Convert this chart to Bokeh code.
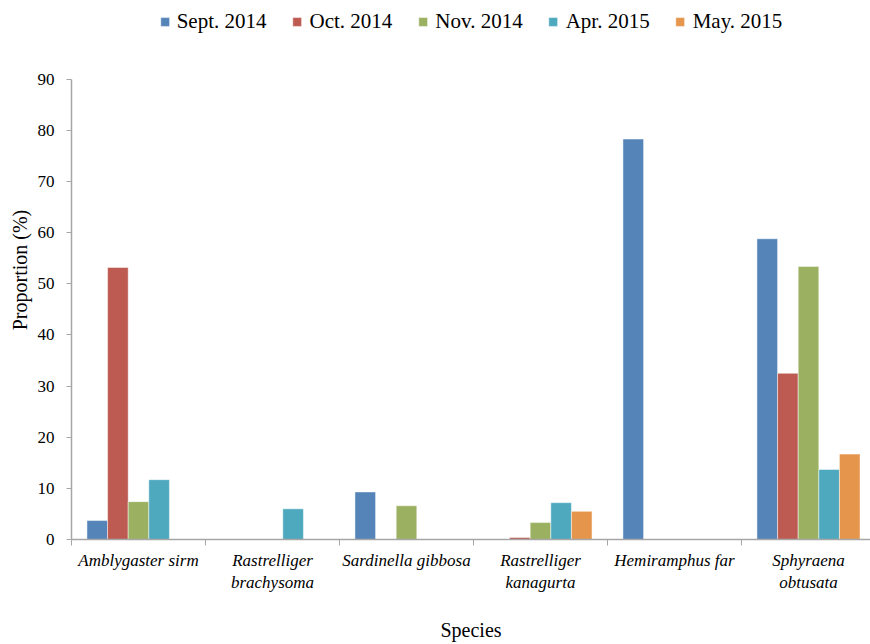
from bokeh.plotting import figure
from bokeh.models import ColumnDataSource, Range1d, FixedTicker, Legend, LegendItem
from bokeh.embed import file_html
from bokeh.resources import INLINE

species = ["Amblygaster sirm", "Rastrelliger\nbrachysoma", "Sardinella gibbosa",
           "Rastrelliger\nkanagurta", "Hemiramphus far", "Sphyraena\nobtusata"]
series = ["Sept. 2014", "Oct. 2014", "Nov. 2014", "Apr. 2015", "May. 2015"]
sept_2014 = [3.7, 0, 9.3, 0, 78.3, 58.8]
oct_2014 = [53.2, 0, 0, 0.4, 0, 32.5]
nov_2014 = [7.4, 0, 6.6, 3.3, 0, 53.4]
apr_2015 = [11.7, 6.0, 0, 7.2, 0, 13.7]
may_2015 = [0, 0, 0, 5.5, 0, 16.7]
colors = ["#5484B8", "#BD5B52", "#9BB061", "#4EA9BE", "#E6964C"]
y_ticks = [0, 10, 20, 30, 40, 50, 60, 70, 80, 90]
y_max = 90

values = [sept_2014, oct_2014, nov_2014, apr_2015, may_2015]
n = len(species)
bw = 1 / 6.5
FONT = "Liberation Serif"

# frame spans canvas top (0) to 541px; value axis 0..90 occupies bottom 462px
top_extra = y_max * 541 / 462

p = figure(width=870, height=644, output_backend="svg", toolbar_location=None,
           x_range=Range1d(0, 799 / 134), y_range=Range1d(0, top_extra),
           min_border_left=71, min_border_right=0, min_border_top=0, min_border_bottom=103)
p.outline_line_color = None
p.xgrid.grid_line_color = None
p.ygrid.grid_line_color = None

items = []
for k, (name, vals, col) in enumerate(zip(series, values, colors)):
    src = ColumnDataSource(dict(x=[i + 0.5 + (k - 2) * bw for i in range(n)], top=vals))
    r = p.vbar(x="x", top="top", width=bw, source=src, fill_color=col,
               line_color="white", line_alpha=0.6, line_width=0.8)
    items.append(LegendItem(label=name, renderers=[r]))

legend = Legend(items=items, orientation="horizontal", location="top_center",
                label_text_font=FONT, label_text_font_size="21px", label_standoff=7,
                label_text_color="black",
                glyph_width=11, glyph_height=11, spacing=25, border_line_color=None,
                background_fill_alpha=0, padding=0, margin=9)
p.add_layout(legend, "center")

axis_color = "#A6A6A6"
p.xaxis.ticker = FixedTicker(ticks=[i + 0.5 for i in range(n)], minor_ticks=list(range(n + 1)))
p.xaxis.major_label_overrides = {i + 0.5: s for i, s in enumerate(species)}
p.xaxis.major_tick_line_color = None
p.xaxis.major_tick_out = 0
p.xaxis.major_tick_in = 0
p.xaxis.minor_tick_out = 6
p.xaxis.minor_tick_in = 0
p.xaxis.minor_tick_line_color = axis_color
p.xaxis.major_label_text_font = FONT
p.xaxis.major_label_text_font_style = "italic"
p.xaxis.major_label_text_font_size = "17px"
p.xaxis.major_label_standoff = 5
p.xaxis.axis_label = "Species"
p.xaxis.axis_label_text_font = FONT
p.xaxis.axis_label_text_font_style = "normal"
p.xaxis.axis_label_text_font_size = "20px"
p.xaxis.axis_label_standoff = 24

p.yaxis.ticker = FixedTicker(ticks=y_ticks, minor_ticks=[])
p.yaxis.bounds = (0, y_max)
p.yaxis.major_tick_out = 5
p.yaxis.major_tick_in = 0
p.yaxis.major_tick_line_color = axis_color
p.yaxis.major_label_text_font = FONT
p.yaxis.major_label_text_font_size = "17px"
p.yaxis.major_label_standoff = 12
p.yaxis.axis_label = "Proportion (%)"
p.yaxis.axis_label_text_font = FONT
p.yaxis.axis_label_text_font_style = "normal"
p.yaxis.axis_label_text_font_size = "20px"
p.yaxis.axis_label_standoff = 4

for ax in (p.xaxis, p.yaxis):
    ax.axis_line_color = axis_color
    ax.axis_line_width = 1.5
    ax.major_label_text_color = "black"
    ax.axis_label_text_color = "black"

open("out.html", "w").write(file_html(p, INLINE))
